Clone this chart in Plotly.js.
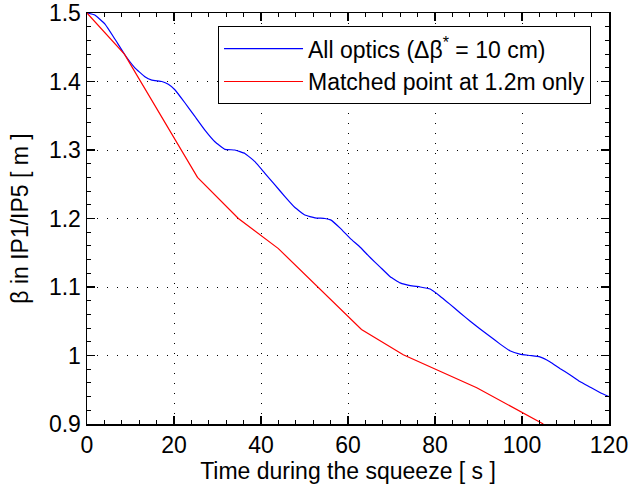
<!DOCTYPE html>
<html>
<head>
<meta charset="utf-8">
<script src="https://cdn.plot.ly/plotly-3.0.1.min.js"></script>
<style>html,body{margin:0;padding:0;background:#fff}#plot{width:631px;height:489px}</style>
</head>
<body>
<div id="plot"></div>
<script>
// Blue: all optics (Δβ* = 10 cm)
const allOpticsTime = [0, 1.8, 4.1, 6.4, 8.7, 11.0, 13.3, 14.9, 17.2, 18.7, 20.2, 22.5, 24.8, 27.1, 29.4, 31.7, 34.0, 36.3, 38.6, 40.9, 43.2, 45.5, 47.8, 50.1, 52.4, 54.7, 56.0, 58.2, 60.5, 62.8, 65.1, 67.4, 69.7, 72.0, 74.3, 76.6, 78.9, 81.1, 83.4, 85.8, 88.1, 90.3, 92.6, 94.9, 97.2, 99.5, 101.8, 104.1, 106.4, 108.7, 111.0, 113.3, 115.6, 117.9, 120];
const allOpticsBeta = [1.500, 1.497, 1.484, 1.462, 1.439, 1.420, 1.407, 1.402, 1.400, 1.396, 1.388, 1.369, 1.349, 1.329, 1.312, 1.301, 1.300, 1.295, 1.283, 1.266, 1.249, 1.232, 1.216, 1.205, 1.201, 1.200, 1.198, 1.186, 1.171, 1.158, 1.143, 1.129, 1.115, 1.106, 1.102, 1.100, 1.097, 1.087, 1.075, 1.062, 1.050, 1.039, 1.028, 1.017, 1.007, 1.002, 1.000, 0.998, 0.991, 0.981, 0.972, 0.962, 0.954, 0.946, 0.940];
// Red: matched point at 1.2m only
const matchedTime = [0, 8.6, 25.4, 34.8, 44.0, 63.1, 72.7, 89.6, 104.9];
const matchedBeta = [1.500, 1.440, 1.260, 1.200, 1.156, 1.038, 1.001, 0.953, 0.900];

const seriesNames = ['All optics (Δβ<sup>*</sup> = 10 cm)', 'Matched point at 1.2m only'];
const xTickVals = [0, 20, 40, 60, 80, 100, 120];
const yTickVals = [0.9, 1.0, 1.1, 1.2, 1.3, 1.4, 1.5];
const yTickText = ['0.9', '1', '1.1', '1.2', '1.3', '1.4', '1.5'];

const FONT = 'Liberation Sans, Arial, Helvetica, sans-serif';

const traces = [
  {x: allOpticsTime, y: allOpticsBeta, name: seriesNames[0], type: 'scatter', mode: 'lines',
   line: {color: '#0000ff', width: 1.2, shape: 'spline', smoothing: 0.3}},
  {x: matchedTime, y: matchedBeta, name: seriesNames[1], type: 'scatter', mode: 'lines',
   line: {color: '#ff0000', width: 1.2}}
];

const axisCommon = {
  showline: true, linecolor: '#000', linewidth: 1.5, mirror: 'ticks',
  ticks: 'inside', ticklen: 8, tickwidth: 1.5, tickcolor: '#000',
  showgrid: true, gridcolor: '#000', gridwidth: 1, griddash: '1px,9px',
  zeroline: false,
  tickfont: {family: FONT, size: 23, color: '#000'}
};

const layout = {
  width: 631, height: 489,
  margin: {l: 87, r: 22, t: 13, b: 65},
  paper_bgcolor: '#fff', plot_bgcolor: '#fff',
  font: {family: FONT, size: 23, color: '#000'},
  xaxis: Object.assign({}, axisCommon, {
    range: [0, 120], tickvals: xTickVals,
    minor: {dtick: 4, ticks: 'inside', ticklen: 4, tickcolor: '#000', tickwidth: 1, showgrid: false},
    title: {text: 'Time during the squeeze [ s ]', font: {family: FONT, size: 23, color: '#000'}, standoff: 6}
  }),
  yaxis: Object.assign({}, axisCommon, {
    range: [0.9, 1.5], tickvals: yTickVals, ticktext: yTickText,
    minor: {dtick: 0.02, ticks: 'inside', ticklen: 4, tickcolor: '#000', tickwidth: 1, showgrid: false},
    title: {text: 'β in IP1/IP5 [ m ]', font: {family: FONT, size: 23, color: '#000'}, standoff: 14}
  }),
  showlegend: true,
  legend: {
    x: 0.251, y: 0.968, xanchor: 'left', yanchor: 'top',
    bgcolor: '#fff', bordercolor: '#000', borderwidth: 1,
    font: {family: FONT, size: 23, color: '#000'},
    itemwidth: 79, tracegroupgap: 0
  }
};

Plotly.newPlot('plot', traces, layout, {staticPlot: true, displayModeBar: false});
</script>
</body>
</html>
